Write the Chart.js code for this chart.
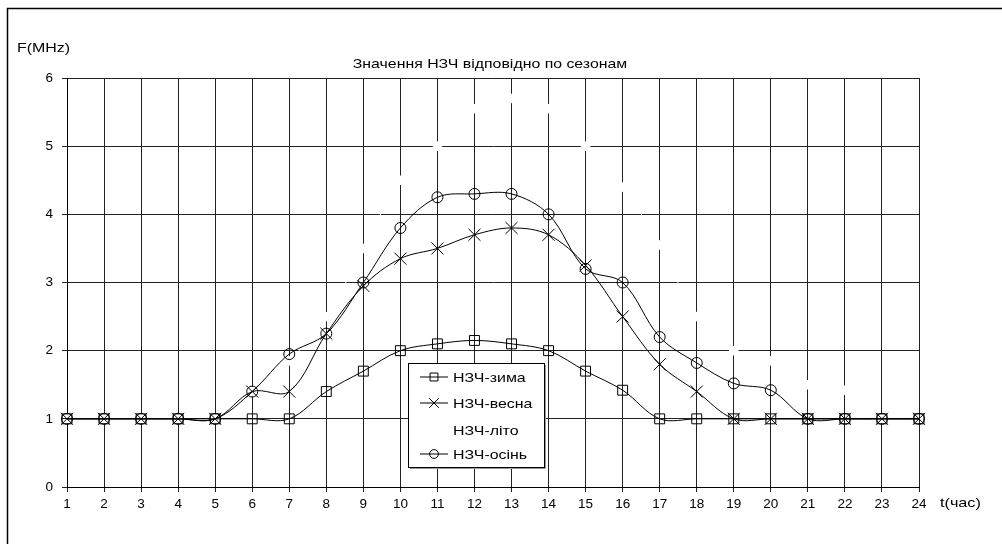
<!DOCTYPE html>
<html>
<head>
<meta charset="utf-8">
<script src="https://cdn.jsdelivr.net/npm/chart.js@4.4.1/dist/chart.umd.min.js"></script>
<style>
    body { margin: 0; background: #fff; }
    #wrap { width: 1002px; height: 544px; position: relative; }
</style>
</head>
<body>
<div id="wrap"><canvas id="nzchChart" width="1002" height="544"></canvas></div>
<script>
const hours = [1,2,3,4,5,6,7,8,9,10,11,12,13,14,15,16,17,18,19,20,21,22,23,24];
const yTicks = [0,1,2,3,4,5,6];
const winter = [1,1,1,1,1,1,1,1.4,1.7,2,2.1,2.15,2.1,2,1.7,1.42,1,1,1,1,1,1,1,1];
const spring = [1,1,1,1,1,1.4,1.4,2.25,2.95,3.35,3.5,3.7,3.8,3.7,3.25,2.5,1.8,1.4,1,1,1,1,1,1];
const summer = [1,1,1,1,1,1.4,1.85,2.5,3.5,4.5,5,5.55,5.7,5.55,5,4.4,3.55,2.5,2,1.85,1.5,1.42,1,1];
const autumn = [1,1,1,1,1,1.4,1.95,2.25,3,3.8,4.25,4.3,4.3,4,3.2,3,2.2,1.82,1.52,1.42,1,1,1,1];

const labels = ['НЗЧ-зима', 'НЗЧ-весна', 'НЗЧ-літо', 'НЗЧ-осінь'];
const titleText = 'Значення НЗЧ відповідно по сезонам';
const yLabel = 'F(MHz)';
const xLabel = 't(час)';

function toPoints(arr) {
    return arr.map((v, i) => ({ x: hours[i], y: v }));
}

const FONT = '"Liberation Sans", Arial, sans-serif';

// text a bit wider than the font gives, like the original
function wideText(c, text, x, y, size, stretch, align) {
    c.save();
    c.font = size + 'px ' + FONT;
    c.textAlign = 'left';
    c.textBaseline = 'middle';
    const w = c.measureText(text).width * stretch;
    let x0 = x;
    if (align === 'center') x0 = x - w / 2;
    c.translate(x0, y);
    c.scale(stretch, 1);
    c.fillText(text, 0, 0);
    c.restore();
}

// frame, titles and the legend box inside the plot
const decorPlugin = {
    id: 'decor',
    beforeDraw(chart) {
        const c = chart.ctx;
        c.save();
        c.fillStyle = '#fff';
        c.fillRect(0, 0, chart.width, chart.height);
        c.strokeStyle = '#000';
        c.lineWidth = 1.5;
        c.strokeRect(7.5, 8.5, 1200, 1000);
        c.restore();
    },
    afterDraw(chart) {
        const c = chart.ctx;
        const a = chart.chartArea;
        c.save();
        c.fillStyle = '#000';
        wideText(c, titleText, (a.left + a.right) / 2 - 3, a.top - 14, 13, 1.22, 'center');
        wideText(c, yLabel, 17, a.top - 30, 13.5, 1.18, 'left');
        wideText(c, xLabel, a.right + 21, a.bottom + 16, 13.5, 1.2, 'left');

        // legend
        const bx = 408, by = 363, bw = 136, bh = 104;
        c.fillStyle = '#fff';
        c.fillRect(bx, by, bw, bh);
        c.strokeStyle = '#000';
        c.lineWidth = 1;
        c.strokeRect(bx + 0.5, by + 0.5, bw, bh);
        c.strokeStyle = '#999';
        c.beginPath();
        c.moveTo(bx + bw + 1.5, by + 2); c.lineTo(bx + bw + 1.5, by + bh + 1.5); c.lineTo(bx + 2, by + bh + 1.5);
        c.stroke();
        const rows = [377, 403, 430, 454];
        chart.data.datasets.forEach((ds, i) => {
            const y = rows[i];
            c.strokeStyle = ds.borderColor;
            c.lineWidth = 1;
            c.beginPath();
            c.moveTo(420, y); c.lineTo(448, y);
            c.stroke();
            c.fillStyle = ds.pointBackgroundColor;
            c.strokeStyle = ds.pointBorderColor || ds.borderColor;
            Chart.helpers.drawPoint(c, {
                pointStyle: ds.pointStyle,
                radius: ds.pointRadius * 0.8,
                borderWidth: 1
            }, 434, y);
            c.fillStyle = '#000';
            wideText(c, ds.label, 453, y + 1, 13.5, 1.18, 'left');
        });
        c.restore();
    }
};

const ctx = document.getElementById('nzchChart').getContext('2d');
const myChart = new Chart(ctx, {
    type: 'line',
    data: {
        datasets: [
            {
                label: labels[0],
                data: toPoints(winter),
                borderColor: '#000',
                backgroundColor: 'rgba(0,0,0,0)',
                pointBackgroundColor: 'rgba(0,0,0,0)',
                pointStyle: 'rect',
                pointRadius: 7,
                borderWidth: 1,
                pointBorderWidth: 1,
                tension: 0.35,
                clip: false,
                order: 1
            },
            {
                label: labels[1],
                data: toPoints(spring),
                borderColor: '#000',
                backgroundColor: 'rgba(0,0,0,0)',
                pointBackgroundColor: 'rgba(0,0,0,0)',
                pointStyle: 'crossRot',
                pointRadius: 8.5,
                borderWidth: 1,
                pointBorderWidth: 1,
                tension: 0.35,
                clip: false,
                order: 2
            },
            {
                label: labels[2],
                data: toPoints(summer),
                borderColor: '#fff',
                backgroundColor: 'rgba(0,0,0,0)',
                pointBackgroundColor: '#fff',
                pointBorderColor: '#fff',
                pointStyle: 'rect',
                pointRadius: 6,
                borderWidth: 1,
                pointBorderWidth: 1,
                tension: 0.35,
                order: 10
            },
            {
                label: labels[3],
                data: toPoints(autumn),
                borderColor: '#000',
                backgroundColor: 'rgba(0,0,0,0)',
                pointBackgroundColor: 'rgba(0,0,0,0)',
                pointStyle: 'circle',
                pointRadius: 5.5,
                borderWidth: 1,
                pointBorderWidth: 1,
                tension: 0.35,
                clip: false,
                order: 3
            }
        ]
    },
    options: {
        responsive: false,
        animation: false,
        events: [],
        layout: { padding: { top: 78, right: 83, left: 0, bottom: 0 } },
        plugins: {
            legend: { display: false },
            title: { display: false },
            tooltip: { enabled: false }
        },
        scales: {
            x: {
                type: 'linear',
                min: hours[0],
                max: hours[hours.length - 1],
                afterFit: function(scale) { scale.height = 57; },
                afterBuildTicks: function(scale) {
                    scale.ticks = hours.map(h => ({ value: h }));
                },
                grid: { color: '#222', lineWidth: 1, tickLength: 5, drawTicks: true },
                border: { color: '#000', width: 1 },
                ticks: {
                    color: '#000',
                    font: { family: FONT, size: 13.5 },
                    padding: 4,
                    maxRotation: 0,
                    autoSkip: false
                }
            },
            y: {
                min: 0,
                max: 6,
                afterFit: function(scale) { scale.width = 67; },
                afterBuildTicks: function(scale) {
                    scale.ticks = yTicks.map(v => ({ value: v }));
                },
                grid: { color: '#222', lineWidth: 1, tickLength: 5, drawTicks: true },
                border: { color: '#000', width: 1 },
                ticks: {
                    color: '#000',
                    font: { family: FONT, size: 13.5 },
                    padding: 9
                }
            }
        }
    },
    plugins: [decorPlugin]
});
</script>
</body>
</html>
